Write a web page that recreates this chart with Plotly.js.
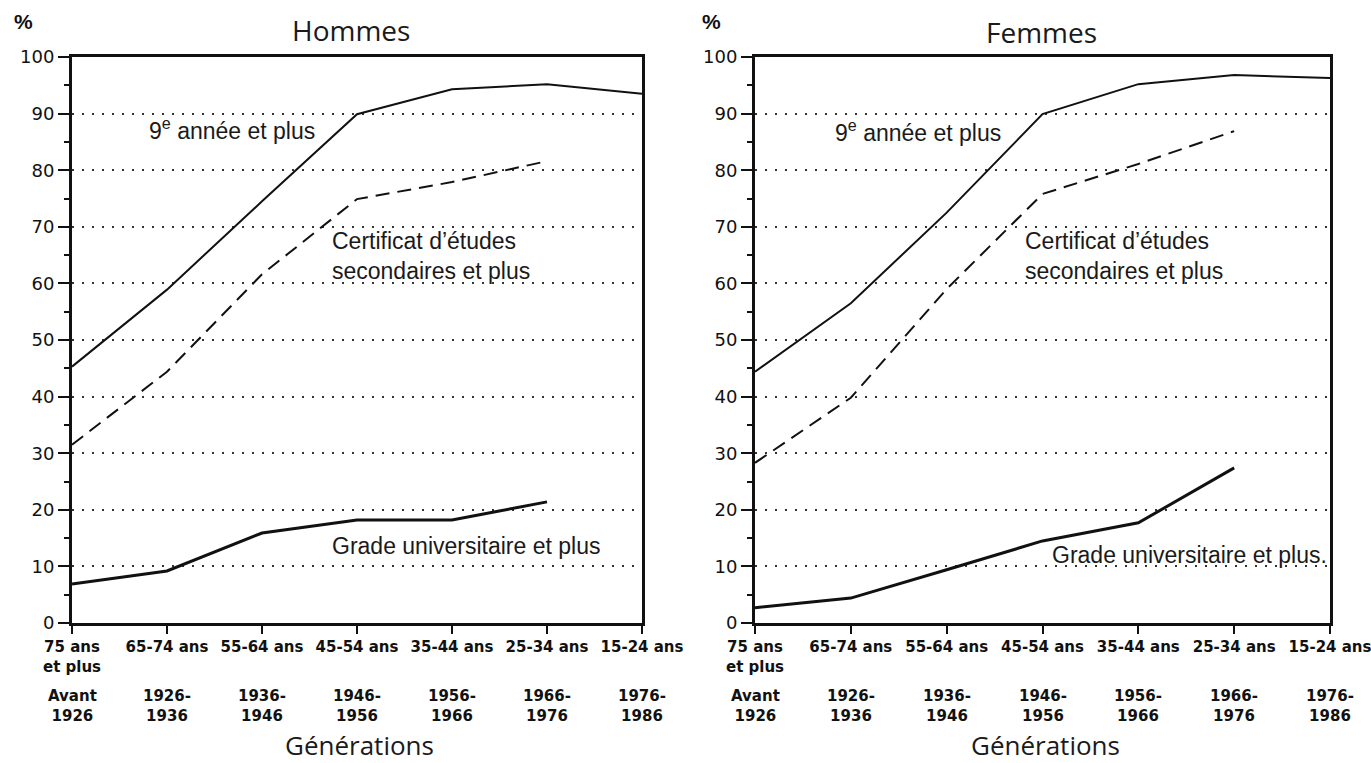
<!DOCTYPE html>
<html><head><meta charset="utf-8">
<script src="https://cdn.plot.ly/plotly-3.0.1.min.js"></script>
<style>html,body{margin:0;padding:0;background:#fff}#c{width:1371px;height:763px}</style>
</head><body><div id="c"></div>
<script>
var ageGroups = ["75 ans<br>et plus","65-74 ans","55-64 ans","45-54 ans","35-44 ans","25-34 ans","15-24 ans"];
var generations = ["Avant<br>1926","1926-<br>1936","1936-<br>1946","1946-<br>1956","1956-<br>1966","1966-<br>1976","1976-<br>1986"];
var yTicks = [0,10,20,30,40,50,60,70,80,90,100];

var hommesNeuvieme   = [45.3, 58.9, 74.5, 89.9, 94.3, 95.2, 93.5];
var hommesCertificat = [31.5, 44.4, 61.6, 74.9, 77.9, 81.6];
var hommesGrade      = [6.9, 9.2, 15.9, 18.2, 18.2, 21.4];

var femmesNeuvieme   = [44.4, 56.5, 72.5, 89.9, 95.2, 96.8, 96.3];
var femmesCertificat = [28.3, 39.8, 59.0, 75.8, 81.1, 86.9];
var femmesGrade      = [2.7, 4.4, 9.4, 14.5, 17.7, 27.4];

var W = 1371, H = 763;
function px(x){return x/W;}
function py(y){return 1 - y/H;}
var idx = ageGroups.map(function(_,i){return i;});

function line(y, xa, ya, dash, w){
  return {x: idx.slice(0,y.length), y: y, xaxis: xa, yaxis: ya, mode:'lines', type:'scatter',
    line:{color:'#111', width:w, dash:dash}, hoverinfo:'skip', showlegend:false};
}
var data = [
  line(hommesNeuvieme,'x','y','solid',2),
  line(hommesCertificat,'x','y','14px,8px',2),
  line(hommesGrade,'x','y','solid',3),
  line(femmesNeuvieme,'x2','y2','solid',2),
  line(femmesCertificat,'x2','y2','14px,8px',2),
  line(femmesGrade,'x2','y2','solid',3)
];

var boldFont = {family:'DejaVu Sans, Verdana, sans-serif', size:15, color:'#111', weight:'bold'};
function xax(domain, anchor){
  return {domain:domain, anchor:anchor, range:[0,6], tickvals:idx, ticktext:ageGroups,
    ticks:'outside', ticklen:8, tickwidth:2, tickcolor:'#111', showgrid:false, zeroline:false,
    showline:true, linewidth:3, linecolor:'#111', mirror:true, ticklabeloverflow:'allow',
    tickfont:boldFont, fixedrange:true};
}
function yax(anchor){
  return {domain:[py(623), py(57)], anchor:anchor, range:[0,100], tickvals:yTicks,
    ticks:'outside', ticklen:11, tickwidth:2, tickcolor:'#111',
    minor:{dtick:5, tick0:0, ticks:'outside', ticklen:5, tickwidth:2, tickcolor:'#111', showgrid:false},
    showgrid:true, gridcolor:'#333', gridwidth:2, griddash:'2px,8px', zeroline:false,
    showline:true, linewidth:3, linecolor:'#111', mirror:true,
    tickfont:{family:'DejaVu Sans, Verdana, sans-serif', size:18, color:'#111'}, fixedrange:true};
}

var labFont = {family:'Liberation Sans, Arial, sans-serif', size:23, color:'#1a1a1a'};
var ann = [];
function addGen(xa, yPix){
  generations.forEach(function(g,i){
    ann.push({xref:xa, yref:'paper', x:i, y:py(yPix), text:g, showarrow:false, xanchor:'center', yanchor:'middle',
      font:boldFont});
  });
}
addGen('x', 706);
addGen('x2', 706);
function txt(x,y,t,font){
  ann.push({xref:'paper', yref:'paper', x:px(x), y:py(y), text:t, showarrow:false, xanchor:'center', yanchor:'middle', font:font});
}
var pctFont = {family:'Liberation Sans, Arial, sans-serif', size:21, color:'#111', weight:'bold'};
var titleFont = {family:'Open Sans, Liberation Sans, sans-serif', size:28, color:'#1a1a1a'};
var genFont = {family:'Open Sans, Liberation Sans, sans-serif', size:26, color:'#1a1a1a'};
txt(23,22,'%',pctFont);
txt(711,22,'%',pctFont);
txt(351,30,'Hommes',titleFont);
txt(1041,32,'Femmes',titleFont);
txt(360,745,'Générations',genFont);
txt(1045,745,'Générations',genFont);

function lab(xa, ya, x, y, t){
  ann.push({xref:xa, yref:ya, x:x, y:y, text:t, showarrow:false, xanchor:'left', yanchor:'middle', align:'left', font:labFont});
}
lab('x','y',0.79,87.3,'9<sup>e</sup> année et plus');
lab('x','y',2.716,64.8,'Certificat d\u2019études<br>secondaires et plus');
lab('x','y',2.716,13.6,'Grade universitaire et plus');
lab('x2','y2',0.81,86.9,'9<sup>e</sup> année et plus');
lab('x2','y2',2.80,64.8,'Certificat d\u2019études<br>secondaires et plus');
lab('x2','y2',3.08,12.0,'Grade universitaire et plus.');

var layout = {
  width:W, height:H, margin:{l:0,r:0,t:0,b:0}, paper_bgcolor:'#fff', plot_bgcolor:'#fff',
  showlegend:false,
  xaxis: xax([px(72),px(642)],'y'),
  yaxis: yax('x'),
  xaxis2: xax([px(755),px(1330)],'y2'),
  yaxis2: yax('x2'),
  annotations: ann
};
Plotly.newPlot('c', data, layout, {displayModeBar:false, staticPlot:true});
</script></body></html>
